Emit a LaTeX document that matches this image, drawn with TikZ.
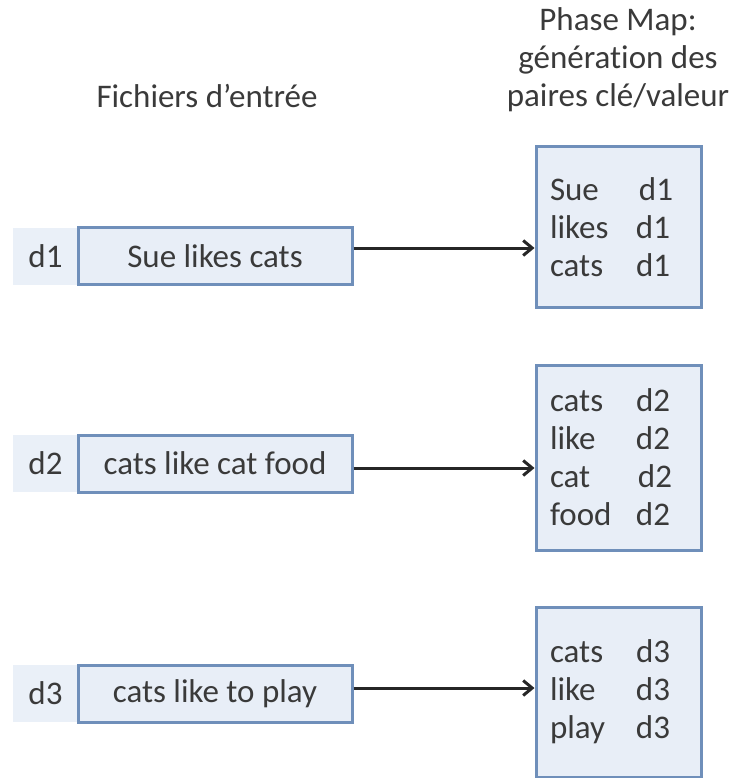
\documentclass[tikz,border=0pt]{standalone}
\usepackage{fontspec}
\setmainfont[Ligatures={NoCommon}]{Carlito}
\usetikzlibrary{arrows.meta}
\definecolor{boxfill}{HTML}{E8EEF7}
\definecolor{stripfill}{HTML}{EAF0F8}
\definecolor{boxline}{HTML}{6F8FBA}
\definecolor{txt}{HTML}{3A3A3A}
\tikzset{
  base/.style={font=\fontsize{33}{38}\selectfont, text=txt},
  strip/.style={base, fill=stripfill, minimum width=65pt, minimum height=57pt, inner sep=0pt},
  inbox/.style={base, draw=boxline, line width=3pt, fill=boxfill, minimum width=274pt, minimum height=57pt, inner sep=0pt},
  mapbox/.style={base, draw=boxline, line width=3pt, fill=boxfill, minimum width=165pt, inner sep=14pt, text width=137pt, align=left},
  title/.style={base, align=center, inner sep=0pt},
  flow/.style={line width=3pt, draw=black!85, -{Straight Barb[length=9pt,width=15pt,line width=3pt]}}
}
\newcommand{\kv}[2]{\makebox[86pt][l]{#1}#2}
\begin{document}
\begin{tikzpicture}[x=1pt,y=-1pt]
\useasboundingbox (0,0) rectangle (734,778);

% column headings
\node[title] (hin) at (207,96) {Fichiers d’entrée};
\node[title] (hmap) at (618,60) {Phase Map:\\génération des\\paires clé/valeur};

% input files
\node[strip] (s1) at (45.5,256) {d1};
\node[inbox] (in1) at (215,256) {Sue likes cats};
\node[strip] (s2) at (45.5,463.5) {d2};
\node[inbox] (in2) at (215,463.5) {cats like cat food};
\node[strip] (s3) at (45.5,693.5) {d3};
\node[inbox] (in3) at (215,693.5) {cats like to play};

% map outputs: key/value pairs
\node[mapbox, minimum height=160pt] (m1) at (618.5,227)
  {\kv{Sue}{\hspace{3pt}d1}\\\kv{likes}{d1}\\\kv{cats}{d1}};
\node[mapbox, minimum height=185pt] (m2) at (618.5,457.5)
  {\kv{cats}{d2}\\\kv{like}{d2}\\\kv{cat}{\hspace{2pt}d2}\\\kv{food}{d2}};
\node[mapbox, minimum height=170pt] (m3) at (618.5,692)
  {\kv{cats}{d3}\\\kv{like}{d3}\\\kv{play}{d3}};

% arrow start points on the input boxes
\coordinate (a1) at ([yshift=8pt]in1.east);
\coordinate (a2) at ([yshift=-4.5pt]in2.east);
\coordinate (a3) at ([yshift=5.5pt]in3.east);

% arrows
\draw[flow] (a1) -- (m1.west |- a1);
\draw[flow] (a2) -- (m2.west |- a2);
\draw[flow] (a3) -- (m3.west |- a3);
\end{tikzpicture}
\end{document}
